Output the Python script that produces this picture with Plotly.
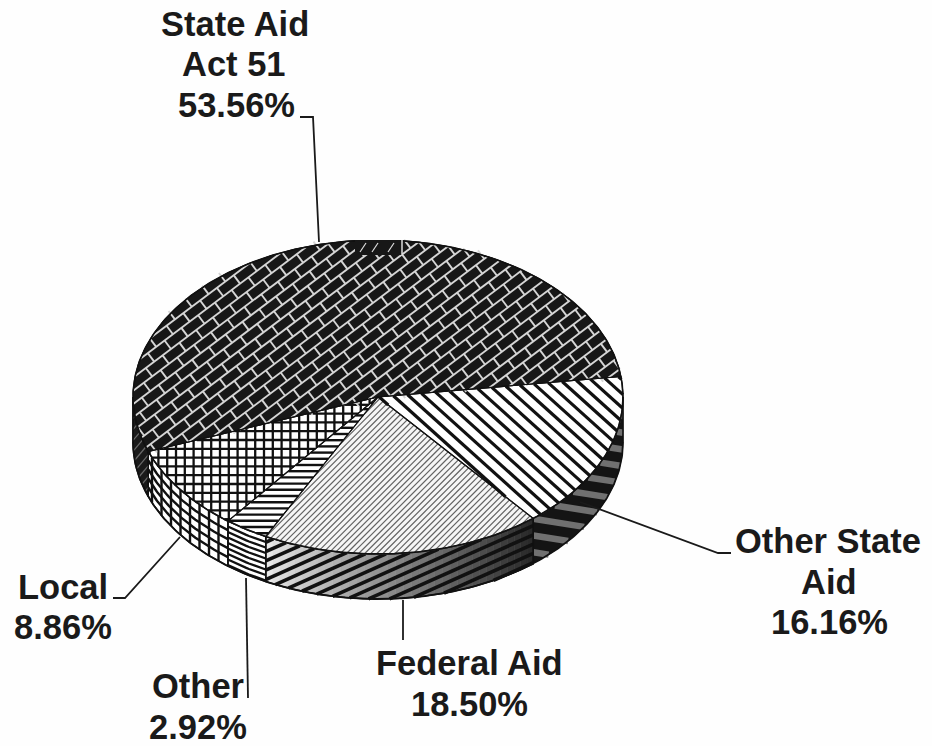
import numpy as np
import plotly.graph_objects as go

# Budget shares, clockwise from the right-hand rim of the pie
categories = ["Other State<br>Aid", "Federal Aid", "Other", "Local", "State Aid<br>Act 51"]
shares = [16.16, 18.50, 2.92, 8.86, 53.56]

# Pie projection in plot units
CX, CY, RX, RY, DEPTH = 378.0, 397.0, 245.0, 157.0, 45.0
START_DEG = 7.5
INK = "#111111"

# Leader lines: x and y runs per label
leader_x = [[580, 718, 731], [403, 403], [246, 248], [180, 125, 113], [300, 313, 319]]
leader_y = [[502, 553, 553], [600, 640], [578, 698], [537, 598, 598], [117, 117, 242]]

# Text line anchors per label
label_x = [[828, 829, 829], [469, 469], [198, 198], [63, 63], [235, 234, 236]]
label_y = [[541, 582, 622], [663, 704], [686, 727], [587, 627], [24, 64, 105]]

edges = START_DEG - np.cumsum([0.0] + shares) * 3.6


def rim(t0, t1, depth=0.0, n=None):
    n = n or max(int(abs(t1 - t0) * 1.5), 2)
    t = np.radians(np.linspace(t0, t1, n))
    return CX + RX * np.cos(t), CY - RY * np.sin(t) + depth


def wedge(t0, t1):
    x, y = rim(t0, t1)
    return np.r_[CX, x, CX], np.r_[CY, y, CY]


def wall(t0, t1):
    x0, y0 = rim(t0, t1)
    x1, y1 = rim(t1, t0, DEPTH)
    return np.r_[x0, x1, x0[0]], np.r_[y0, y1, y0[0]]


def inside(px, py, x, y):
    hit = False
    for i in range(len(x) - 1):
        if (y[i] > py) != (y[i + 1] > py):
            if px < x[i] + (py - y[i]) * (x[i + 1] - x[i]) / (y[i + 1] - y[i]):
                hit = not hit
    return hit


def hatch(x, y, angle, spacing):
    """Family of parallel lines at `angle` degrees, clipped to a polygon."""
    a = np.radians(angle)
    dx, dy = np.cos(a), np.sin(a)
    u = -dy * x + dx * y
    v = dx * x + dy * y
    xs, ys = [], []
    for c in np.arange(np.floor(u.min() / spacing), np.ceil(u.max() / spacing) + 1) * spacing:
        hits = []
        for i in range(len(u) - 1):
            if (u[i] - c) * (u[i + 1] - c) < 0:
                hits.append(v[i] + (c - u[i]) / (u[i + 1] - u[i]) * (v[i + 1] - v[i]))
        hits.sort()
        for p, q in zip(hits[::2], hits[1::2]):
            xs += [p * dx - c * dy, q * dx - c * dy, None]
            ys += [p * dy + c * dx, q * dy + c * dx, None]
    return xs, ys


def bricks(x, y, angle, row, length):
    """Short cross strokes joining the long courses of a running-bond texture."""
    a = np.radians(angle)
    dx, dy = np.cos(a), np.sin(a)
    u = -dy * x + dx * y
    v = dx * x + dy * y
    xs, ys = [], []
    k0, k1 = int(np.floor(u.min() / row)), int(np.ceil(u.max() / row))
    for k in range(k0, k1):
        off = (k % 2) * length / 2
        for w in np.arange(np.floor(v.min() / length), np.ceil(v.max() / length) + 1) * length + off:
            c0, c1 = k * row, (k + 1) * row
            x0, y0 = w * dx - c0 * dy, w * dy + c0 * dx
            x1, y1 = w * dx - c1 * dy, w * dy + c1 * dx
            if inside((x0 + x1) / 2, (y0 + y1) / 2, x, y):
                xs += [x0, x1, None]
                ys += [y0, y1, None]
    return xs, ys


def lines(fig, xs, ys, color, width):
    fig.add_trace(go.Scatter(x=xs, y=ys, mode="lines", line=dict(color=color, width=width),
                             hoverinfo="skip", showlegend=False))


def patch(fig, x, y, color, outline=None, width=1.5):
    fig.add_trace(go.Scatter(x=x, y=y, mode="lines", fill="toself", fillcolor=color,
                             line=dict(color=outline or color, width=width if outline else 0.6),
                             hoverinfo="skip", showlegend=False))


fig = go.Figure()

# Walls of the pie, visible only on the lower half of the rim
t_state, t_fed, t_other, t_local, t_act = edges[0], edges[1], edges[2], edges[3], edges[4]

# Other State Aid wall
x, y = wall(0, t_fed)
patch(fig, x, y, "#141414")
lines(fig, *hatch(x, y, 9, 16.5), "#707070", 6.5)

# Federal Aid wall darkens toward the right
steps = 36
grid = np.linspace(t_other, t_fed, steps + 1)
for i in range(steps):
    f = i / (steps - 1)
    g = int(232 - 190 * f ** 0.9)
    x, y = wall(grid[i], grid[i + 1])
    patch(fig, x, y, f"rgb({g},{g},{g})")
x, y = wall(t_other, t_fed)
lines(fig, *hatch(x, y, -24, 8.5), INK, 3.6)
patch(fig, x, y, "rgba(0,0,0,0)", INK)

# Other wall
x, y = wall(t_local, t_other)
patch(fig, x, y, "#ffffff", INK)
for d in np.arange(5.5, DEPTH, 5.5):
    lines(fig, *rim(t_local, t_other, d), INK, 2.2)

# Local wall
x, y = wall(t_act, t_local)
patch(fig, x, y, "#ffffff", INK)
lines(fig, *hatch(x, y, 90, 9.5), INK, 2.4)
for d in np.arange(9, DEPTH, 9):
    lines(fig, *rim(t_act, t_local, d), INK, 2.4)

# State Aid wall
x, y = wall(-180, t_act)
patch(fig, x, y, "#1a1a1a", INK)
lines(fig, *hatch(x, y, -50, 7), "#6a6a6a", 1.2)

# Top face: Federal Aid
x2, y2 = wedge(t_fed, t_other)
patch(fig, x2, y2, "#f6f6f6")
lines(fig, *hatch(x2, y2, -45, 4.3), "#636363", 1.2)

# Top face: Other State Aid
x, y = wedge(t_state, t_fed)
patch(fig, x, y, "#ffffff")
lines(fig, *hatch(x, y, 42, 10.3), INK, 3.2)

# Top face: Other
x, y = wedge(t_other, t_local)
patch(fig, x, y, "#ffffff")
lines(fig, *hatch(x, y, 0, 6.2), INK, 2.4)

# Top face: Local
x, y = wedge(t_local, t_act)
patch(fig, x, y, "#ffffff")
lines(fig, *hatch(x, y, 0, 8.8), INK, 2.3)
lines(fig, *hatch(x, y, 90, 8.8), INK, 2.3)

# Top face: State Aid, Act 51 as a running-bond brick texture
x, y = wedge(t_act, t_act - shares[4] * 3.6)
patch(fig, x, y, "#171717")
lines(fig, *hatch(x, y, -37, 10.6), "#d6d6d6", 1.9)
lines(fig, *bricks(x, y, -37, 10.6, 21.0), "#d6d6d6", 1.9)

# Slice boundaries and silhouette
for a, b in zip(edges[:-1], edges[1:]):
    wx, wy = wedge(a, b)
    lines(fig, wx, wy, INK, 1.1)
for t in (t_fed, t_other, t_local, t_act):
    ex, ey = rim(t, t, 0, 2)
    lines(fig, ex, [ey[0], ey[0] + DEPTH], INK, 1.4)
lines(fig, *rim(0, -180, DEPTH), INK, 1.8)
ox, oy = rim(0, 360)
lines(fig, ox, oy, INK, 1.6)
for sx in (1, -1):
    lines(fig, [CX + sx * RX] * 2, [CY, CY + DEPTH], INK, 1.6)

# Leader lines
for lx, ly in zip(leader_x, leader_y):
    lines(fig, lx, ly, "#1a1a1a", 1.8)

for name, share, xs_, ys_ in zip(categories, shares, label_x, label_y):
    rows = name.split("<br>") + [f"{share:.2f}%"]
    for row, ax, ay in zip(rows, xs_, ys_):
        fig.add_annotation(x=ax, y=ay, text=f"<b>{row}</b>", showarrow=False,
                           xanchor="center", yanchor="middle",
                           font=dict(family="Liberation Sans", size=34.5, color="#1a1a1a"))

# Blank strip and flat dark band across the crown of the pie
fig.add_shape(type="rect", x0=353, x1=402, y0=226, y1=240, fillcolor="#fefefe", line_width=0)
fig.add_shape(type="rect", x0=355, x1=402, y0=240, y1=255, fillcolor="#171717", line_width=0)
fig.add_shape(type="line", x0=402, x1=402, y0=240, y1=255, line=dict(color="#dddddd", width=1.5))
for sx in (360, 372, 388):
    fig.add_shape(type="line", x0=sx, x1=sx + 6, y0=252, y1=243, line=dict(color="#dddddd", width=1.2))

fig.update_layout(
    width=932, height=746, margin=dict(l=0, r=0, t=0, b=0),
    paper_bgcolor="#fefefe", plot_bgcolor="#fefefe", showlegend=False,
    xaxis=dict(range=[0, 932], visible=False, fixedrange=True),
    yaxis=dict(range=[746, 0], visible=False, fixedrange=True),
)
fig.write_html("out.html", config={"displayModeBar": False})
